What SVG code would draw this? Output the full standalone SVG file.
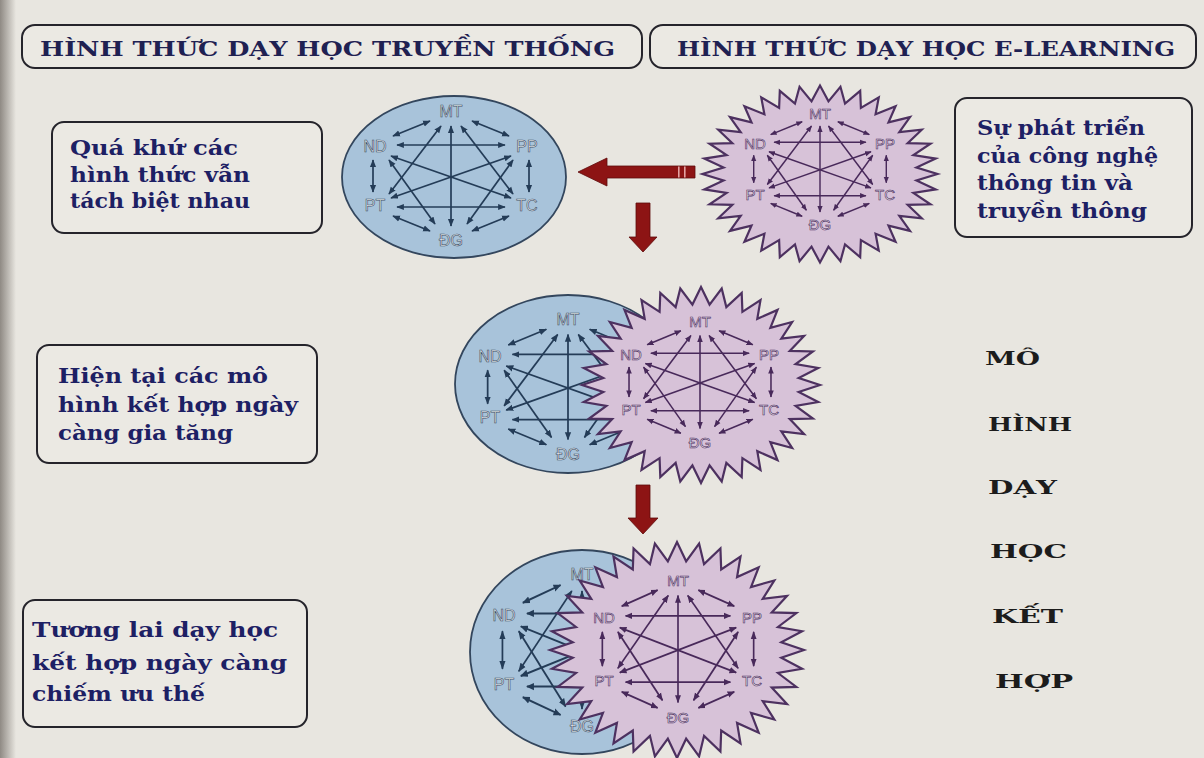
<svg xmlns="http://www.w3.org/2000/svg" xmlns:xlink="http://www.w3.org/1999/xlink" width="1204" height="758" viewBox="0 0 1204 758">
<style>
.bg{fill:#e8e6e0}
.box{fill:#ebe9e3;stroke:#25242b;stroke-width:2}
.t{font-family:"DejaVu Serif","Liberation Serif",serif;font-weight:bold;fill:#1d2064}
.hd{font-size:21px;fill:#1f2152}
.bx{font-size:20px}
.col{font-size:18px;fill:#1c1c1c}
.ell{fill:#a8c3da;stroke:#33465d;stroke-width:1.8}
.star{fill:#d7c2d8;stroke:#4d3160;stroke-width:2.2;stroke-linejoin:miter}
.gb{stroke:#243c57;stroke-width:1.7;fill:none;marker-start:url(#mb);marker-end:url(#mb)}
.gp{stroke:#48295a;stroke-width:1.7;fill:none;marker-start:url(#mp);marker-end:url(#mp)}
.lb{font-family:"Liberation Sans",Arial,sans-serif;font-size:16px;text-anchor:middle;fill:#e6eaef;stroke:#3a4c62;stroke-width:0.6}
.lp{font-family:"Liberation Sans",Arial,sans-serif;font-size:15px;text-anchor:middle;fill:#f1e9f1;stroke:#4b2d5e;stroke-width:0.6}
.red{fill:#8d1414;stroke:#5e0a0a;stroke-width:0.8}
</style>
<defs>
<linearGradient id="edge" x1="0" y1="0" x2="1" y2="0">
<stop offset="0" stop-color="#8f8a84"/>
<stop offset="1" stop-color="#e8e6e0"/>
</linearGradient>
<marker id="mb" viewBox="0 0 10 10" refX="9" refY="5" markerWidth="4.5" markerHeight="4.5" orient="auto-start-reverse"><path d="M0,1 L10,5 L0,9 z" fill="#243c57"/></marker>
<marker id="mp" viewBox="0 0 10 10" refX="9" refY="5" markerWidth="4.5" markerHeight="4.5" orient="auto-start-reverse"><path d="M0,1 L10,5 L0,9 z" fill="#48295a"/></marker>
<polygon id="zig" class="star" vector-effect="non-scaling-stroke" points="100,0 82.1,7.2 98.5,17.4 79.5,21.3 94,34.2 74.6,34.8 86.6,50 67.5,47.3 76.6,64.3 58.3,58.3 64.3,76.6 47.3,67.5 50,86.6 34.8,74.6 34.2,94 21.3,79.5 17.4,98.5 7.2,82.1 0,100 -7.2,82.1 -17.4,98.5 -21.3,79.5 -34.2,94 -34.8,74.6 -50,86.6 -47.3,67.5 -64.3,76.6 -58.3,58.3 -76.6,64.3 -67.5,47.3 -86.6,50 -74.6,34.8 -94,34.2 -79.5,21.3 -98.5,17.4 -82.1,7.2 -100,0 -82.1,-7.2 -98.5,-17.4 -79.5,-21.3 -94,-34.2 -74.6,-34.8 -86.6,-50 -67.5,-47.3 -76.6,-64.3 -58.3,-58.3 -64.3,-76.6 -47.3,-67.5 -50,-86.6 -34.8,-74.6 -34.2,-94 -21.3,-79.5 -17.4,-98.5 -7.2,-82.1 0,-100 7.2,-82.1 17.4,-98.5 21.3,-79.5 34.2,-94 34.8,-74.6 50,-86.6 47.3,-67.5 64.3,-76.6 58.3,-58.3 76.6,-64.3 67.5,-47.3 86.6,-50 74.6,-34.8 94,-34.2 79.5,-21.3 98.5,-17.4 82.1,-7.2"/>
<g id="edges">
<line x1="-21" y1="-55" x2="-58" y2="-40"/>
<line x1="21" y1="-55" x2="58" y2="-40"/>
<line x1="-54" y1="-31" x2="54" y2="-31"/>
<line x1="-78" y1="-16" x2="-78" y2="16"/>
<line x1="78" y1="-16" x2="78" y2="16"/>
<line x1="-54" y1="31" x2="54" y2="31"/>
<line x1="-58" y1="40" x2="-21" y2="55"/>
<line x1="58" y1="40" x2="21" y2="55"/>
<line x1="0" y1="-50" x2="0" y2="50"/>
<line x1="-10" y1="-50" x2="-62" y2="18"/>
<line x1="10" y1="-50" x2="62" y2="18"/>
<line x1="-60" y1="-20" x2="60" y2="22"/>
<line x1="60" y1="-20" x2="-60" y2="22"/>
<line x1="-62" y1="-16" x2="-16" y2="48"/>
<line x1="62" y1="-16" x2="16" y2="48"/>
</g>
</defs>

<rect class="bg" x="0" y="0" width="1204" height="758"/>
<rect x="0" y="0" width="16" height="758" fill="url(#edge)"/>

<g id="header-traditional">
<rect class="box" x="22" y="25" width="620" height="43" rx="13"/>
<text class="t hd" x="40" y="56" textLength="575" lengthAdjust="spacingAndGlyphs">HÌNH THỨC DẠY HỌC TRUYỀN THỐNG</text>
</g>
<g id="header-elearning">
<rect class="box" x="650" y="25" width="546" height="43" rx="13"/>
<text class="t hd" x="677" y="56" textLength="498" lengthAdjust="spacingAndGlyphs">HÌNH THỨC DẠY HỌC E-LEARNING</text>
</g>

<g id="box-past">
<rect class="box" x="52" y="122" width="270" height="111" rx="12"/>
<text class="t bx" x="70" y="155" textLength="168" lengthAdjust="spacingAndGlyphs">Quá khứ các</text>
<text class="t bx" x="70" y="182" textLength="180" lengthAdjust="spacingAndGlyphs">hình thức vẫn</text>
<text class="t bx" x="70" y="208" textLength="180" lengthAdjust="spacingAndGlyphs">tách biệt nhau</text>
</g>
<g id="box-present">
<rect class="box" x="37" y="345" width="280" height="118" rx="12"/>
<text class="t bx" x="58" y="383" textLength="210" lengthAdjust="spacingAndGlyphs">Hiện tại các mô</text>
<text class="t bx" x="58" y="412" textLength="240" lengthAdjust="spacingAndGlyphs">hình kết hợp ngày</text>
<text class="t bx" x="58" y="440" textLength="175" lengthAdjust="spacingAndGlyphs">càng gia tăng</text>
</g>
<g id="box-future">
<rect class="box" x="23" y="600" width="284" height="127" rx="12"/>
<text class="t bx" x="32" y="637" textLength="246" lengthAdjust="spacingAndGlyphs">Tương lai dạy học</text>
<text class="t bx" x="32" y="670" textLength="255" lengthAdjust="spacingAndGlyphs">kết hợp ngày càng</text>
<text class="t bx" x="32" y="701" textLength="173" lengthAdjust="spacingAndGlyphs">chiếm ưu thế</text>
</g>
<g id="box-ict">
<rect class="box" x="955" y="98" width="237" height="139" rx="12"/>
<text class="t bx" x="977" y="135" textLength="168" lengthAdjust="spacingAndGlyphs">Sự phát triển</text>
<text class="t bx" x="977" y="163" textLength="181" lengthAdjust="spacingAndGlyphs">của công nghệ</text>
<text class="t bx" x="977" y="190" textLength="156" lengthAdjust="spacingAndGlyphs">thông tin và</text>
<text class="t bx" x="977" y="218" textLength="170" lengthAdjust="spacingAndGlyphs">truyền thông</text>
</g>
<g id="blended-label">
<text class="t col" x="985" y="365" textLength="55" lengthAdjust="spacingAndGlyphs">MÔ</text>
<text class="t col" x="988" y="431" textLength="84" lengthAdjust="spacingAndGlyphs">HÌNH</text>
<text class="t col" x="988" y="494" textLength="69" lengthAdjust="spacingAndGlyphs">DẠY</text>
<text class="t col" x="990" y="558" textLength="77" lengthAdjust="spacingAndGlyphs">HỌC</text>
<text class="t col" x="992" y="623" textLength="71" lengthAdjust="spacingAndGlyphs">KẾT</text>
<text class="t col" x="995" y="688" textLength="78" lengthAdjust="spacingAndGlyphs">HỢP</text>
</g>

<g id="top-traditional">
<ellipse class="ell" cx="454" cy="177" rx="112" ry="81"/>
<use xlink:href="#edges" class="gb" transform="translate(451,176)"/>
<text class="lb" x="451" y="117">MT</text>
<text class="lb" x="375" y="152">ND</text>
<text class="lb" x="527" y="152">PP</text>
<text class="lb" x="375" y="211">PT</text>
<text class="lb" x="527" y="211">TC</text>
<text class="lb" x="451" y="246">ĐG</text>
</g>
<g id="top-elearning">
<use xlink:href="#zig" transform="translate(820,174) scale(1.175,0.885)"/>
<use xlink:href="#edges" class="gp" transform="translate(820,169) scale(0.85,0.86)"/>
<text class="lp" x="820" y="119">MT</text>
<text class="lp" x="755" y="149">ND</text>
<text class="lp" x="885" y="149">PP</text>
<text class="lp" x="755" y="200">PT</text>
<text class="lp" x="885" y="200">TC</text>
<text class="lp" x="820" y="230">ĐG</text>
</g>

<g id="middle-traditional">
<ellipse class="ell" cx="568" cy="384" rx="113" ry="89"/>
<use xlink:href="#edges" class="gb" transform="translate(568,387) scale(1.03,1.05)"/>
<text class="lb" x="568" y="325">MT</text>
<text class="lb" x="490" y="362">ND</text>
<text class="lb" x="490" y="423">PT</text>
<text class="lb" x="568" y="460">ĐG</text>
</g>
<g id="middle-elearning">
<use xlink:href="#zig" transform="translate(701,385) scale(1.19,0.98)"/>
<use xlink:href="#edges" class="gp" transform="translate(700,382) scale(0.91,0.93)"/>
<text class="lp" x="700" y="327">MT</text>
<text class="lp" x="631" y="360">ND</text>
<text class="lp" x="769" y="360">PP</text>
<text class="lp" x="631" y="415">PT</text>
<text class="lp" x="769" y="415">TC</text>
<text class="lp" x="700" y="448">ĐG</text>
</g>

<g id="bottom-traditional">
<ellipse class="ell" cx="582" cy="652" rx="112" ry="102"/>
<use xlink:href="#edges" class="gb" transform="translate(582,650) scale(1.02,1.18)"/>
<text class="lb" x="582" y="580">MT</text>
<text class="lb" x="504" y="621">ND</text>
<text class="lb" x="504" y="690">PT</text>
<text class="lb" x="582" y="732">ĐG</text>
</g>
<g id="bottom-elearning">
<use xlink:href="#zig" transform="translate(677,650) scale(1.27,1.08)"/>
<use xlink:href="#edges" class="gp" transform="translate(678,649) scale(0.97,1.07)"/>
<text class="lp" x="678" y="586">MT</text>
<text class="lp" x="604" y="623">ND</text>
<text class="lp" x="752" y="623">PP</text>
<text class="lp" x="604" y="686">PT</text>
<text class="lp" x="752" y="686">TC</text>
<text class="lp" x="678" y="723">ĐG</text>
</g>

<g id="connectors">
<path class="red" d="M578,172 L607,158 L607,166 L695,166 L695,178 L607,178 L607,186 Z"/>
<rect x="678" y="166.5" width="1.6" height="11" fill="#e3a3a3"/>
<rect x="684" y="166.5" width="1.6" height="11" fill="#e3a3a3"/>
<path class="red" d="M636,203 L650,203 L650,237 L657,237 L643,252 L629,237 L636,237 Z"/>
<path class="red" d="M636,485 L650,485 L650,518 L658,518 L643,534 L628,518 L636,518 Z"/>
</g>
</svg>
